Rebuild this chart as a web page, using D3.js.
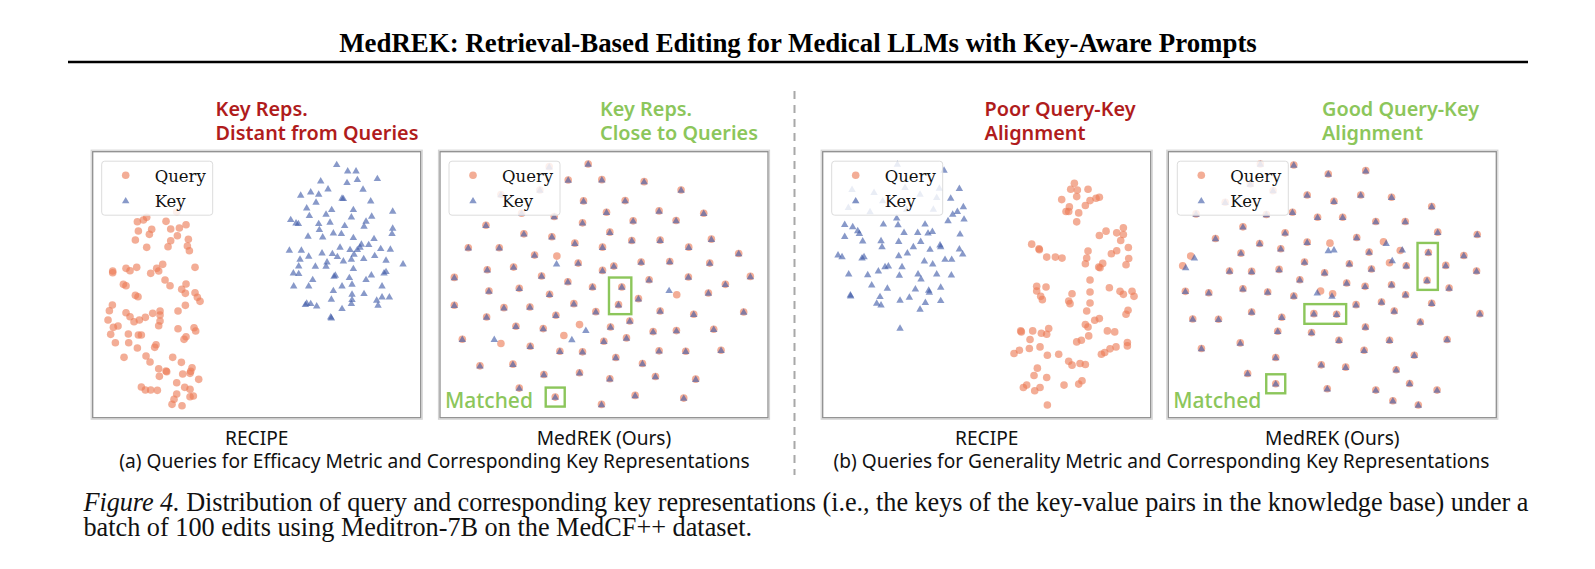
<!DOCTYPE html>
<html><head><meta charset="utf-8">
<script src="https://cdn.jsdelivr.net/npm/d3@7"></script>
<style>html,body{margin:0;padding:0;background:#fff;}svg{display:block;}</style>
</head><body>
<svg id="fig" width="1595" height="569"></svg>
<script>
// ---------------- DATA (embedding coordinates) ----------------
const headerTitle = "MedREK: Retrieval-Based Editing for Medical LLMs with Key-Aware Prompts";
const panelTitles = [["Key Reps.", "Distant from Queries"], ["Key Reps.", "Close to Queries"],
                     ["Poor Query-Key", "Alignment"], ["Good Query-Key", "Alignment"]];
const panelTitleTone = ["bad", "good", "bad", "good"];
const methodLabels = ["RECIPE", "MedREK (Ours)", "RECIPE", "MedREK (Ours)"];
const groupLabels = ["(a) Queries for Efficacy Metric and Corresponding Key Representations",
                     "(b) Queries for Generality Metric and Corresponding Key Representations"];
const legendLabels = ["Query", "Key"];
const captionLead = "Figure 4.";
const captionLine1 = " Distribution of query and corresponding key representations (i.e., the keys of the key-value pairs in the knowledge base) under a";
const captionLine2 = "batch of 100 edits using Meditron-7B on the MedCF++ dataset.";
const annotationLabel = "Matched";

// Panel (a) RECIPE
const queries1 = [[290,215],[200,232],[190,240],[172,245],[258,244],[318,254],[298,264],[272,267],[215,268],[175,273],[208,283],[292,287],[166,300],[272,302],[325,298],[322,318],[264,320],[200,322],[328,332],[345,382],[248,373],[230,385],[236,393],[212,400],[170,382],[150,392],[138,385],[98,393],[98,398],[255,420],[270,437],[318,432],[305,448],[316,460],[130,433],[138,437],[166,466],[174,470],[345,458],[352,472],[360,484],[97,495],[88,512],[316,496],[294,513],[138,518],[150,530],[162,545],[178,540],[196,532],[218,520],[240,513],[240,525],[240,543],[236,557],[84,540],[100,562],[114,558],[294,566],[342,563],[347,573],[92,583],[145,582],[175,585],[184,585],[318,590],[312,598],[106,608],[146,608],[228,614],[224,622],[172,624],[132,652],[198,648],[210,666],[278,652],[304,667],[236,686],[258,693],[260,695],[336,683],[332,694],[238,709],[308,702],[330,700],[356,718],[290,728],[184,741],[196,750],[212,750],[232,751],[314,742],[330,748],[290,762],[282,778],[330,770],[340,768],[276,793],[306,797]];
const keys1 = [[770,73],[803,92],[828,92],[722,122],[801,127],[832,118],[892,115],[744,146],[849,147],[662,165],[692,155],[716,162],[708,186],[786,174],[790,175],[872,182],[680,203],[755,208],[820,208],[938,213],[688,226],[738,222],[814,230],[875,228],[632,238],[648,248],[655,250],[716,250],[750,246],[794,256],[858,243],[852,258],[938,264],[936,280],[718,268],[684,288],[728,290],[760,278],[784,280],[820,292],[882,295],[844,312],[866,313],[840,321],[628,330],[664,330],[726,338],[757,340],[780,321],[810,328],[832,328],[902,325],[931,327],[686,348],[772,349],[822,342],[851,355],[814,357],[884,346],[660,357],[741,365],[790,362],[656,377],[706,378],[738,378],[820,385],[918,360],[969,371],[640,398],[656,400],[766,405],[808,412],[874,404],[912,398],[918,394],[641,437],[686,437],[698,418],[762,408],[786,437],[816,432],[858,418],[906,437],[760,451],[816,462],[852,460],[890,480],[906,470],[928,470],[894,495],[680,489],[676,493],[692,490],[710,497],[754,477],[816,478],[814,490],[752,530],[754,533],[786,505]];

// Panel (a) MedREK: query/key pairs that coincide, plus the few that do not
const matched2 = [[358,78],[330,148],[213,162],[275,218],[373,228],[475,70],[415,118],[516,117],[643,123],[754,148],[461,181],[586,180],[530,215],[688,211],[822,218],[610,241],[739,240],[458,247],[168,254],[282,280],[366,289],[540,275],[115,322],[208,322],[435,308],[518,320],[606,300],[691,299],[777,320],[845,296],[314,344],[445,368],[518,390],[552,377],[634,365],[720,363],[840,368],[927,339],[172,388],[251,380],[335,407],[73,411],[414,424],[488,440],[576,440],[658,418],[776,410],[887,432],[962,408],[177,452],[268,444],[359,462],[626,475],[836,458],[73,495],[222,502],[300,500],[432,490],[378,525],[498,514],[566,493],[691,512],[792,522],[942,515],[170,530],[258,558],[340,565],[542,560],[600,542],[670,574],[740,571],[852,567],[97,597],[301,618],[390,633],[458,635],[522,603],[590,593],[558,652],[688,632],[768,633],[874,630],[150,677],[249,672],[638,670],[342,703],[449,698],[540,716],[677,709],[798,717],[268,744],[376,771],[616,766],[762,774],[515,793]];
const extraQueries2 = [[381,347],[741,463],[449,553],[402,586],[213,610]];
const extraKeys2 = [[380,370],[718,450],[468,570],[426,598],[193,597]];
const queries2 = matched2.concat(extraQueries2);
const keys2 = matched2.concat(extraKeys2);
const highlight2 = [[[576,440],[566,493]], [[376,771]]];

// Panel (b) RECIPE
const keys3 = [[262,70],[402,88],[126,146],[192,155],[137,180],[218,180],[330,160],[380,170],[388,142],[285,140],[290,205],[370,205],[115,200],[180,213],[448,143],[422,172],[460,198],[442,212],[428,220],[414,240],[462,235],[260,232],[264,252],[220,250],[345,250],[104,251],[128,258],[143,270],[148,278],[104,287],[282,275],[323,275],[354,277],[367,272],[450,280],[158,301],[213,300],[266,302],[332,302],[216,318],[310,318],[390,313],[392,318],[360,326],[448,325],[458,340],[84,343],[96,348],[156,352],[162,348],[266,345],[292,337],[405,356],[425,356],[343,361],[116,400],[173,402],[205,391],[225,378],[235,376],[276,378],[368,370],[324,400],[333,415],[380,400],[424,403],[268,404],[185,433],[232,443],[316,445],[356,449],[392,440],[358,455],[121,463],[122,466],[210,468],[270,479],[298,470],[346,486],[392,480],[200,488],[213,493],[330,506],[270,563]];
const queries3 = [[793,128],[782,146],[802,148],[834,146],[755,177],[800,168],[840,180],[858,173],[868,170],[826,195],[778,199],[768,213],[776,213],[806,217],[800,244],[868,285],[888,272],[920,277],[940,262],[940,282],[932,300],[665,311],[687,325],[688,328],[710,350],[736,350],[756,353],[834,332],[830,353],[826,370],[878,369],[866,380],[870,382],[904,340],[920,331],[955,321],[956,354],[948,373],[840,419],[680,438],[708,440],[680,452],[692,468],[697,478],[840,455],[786,460],[776,482],[780,490],[840,488],[830,512],[898,442],[930,453],[940,462],[966,453],[972,468],[954,510],[948,522],[634,575],[632,572],[668,572],[694,579],[716,565],[710,582],[826,553],[834,560],[854,540],[868,535],[836,587],[892,572],[914,575],[660,598],[690,620],[658,625],[628,630],[612,640],[712,645],[746,642],[800,605],[814,600],[952,607],[952,617],[918,620],[900,626],[884,637],[874,642],[776,663],[786,675],[810,670],[826,673],[682,684],[672,706],[710,712],[640,742],[650,735],[674,752],[690,742],[762,735],[806,732],[816,722],[712,795]];

// Panel (b) MedREK
const matched4 = [[300,70],[270,130],[338,150],[195,185],[108,220],[318,222],[400,73],[615,90],[503,100],[440,163],[520,182],[600,163],[692,170],[812,198],[396,215],[471,230],[546,230],[645,243],[733,243],[248,259],[166,294],[374,277],[298,309],[440,305],[588,291],[830,275],[948,282],[361,325],[242,338],[625,335],[802,336],[908,345],[432,365],[566,370],[632,386],[854,375],[736,376],[208,392],[274,393],[356,387],[492,397],[946,392],[418,418],[558,428],[613,438],[692,433],[798,420],[864,443],[76,453],[146,457],[248,445],[322,455],[400,467],[734,463],[586,493],[662,485],[700,512],[812,489],[274,515],[364,531],[460,520],[528,522],[956,520],[98,536],[175,537],[778,545],[614,560],[352,573],[453,577],[535,600],[686,600],[858,598],[240,608],[124,625],[610,630],[346,652],[482,674],[555,681],[760,645],[706,689],[262,700],[746,730],[346,731],[500,746],[645,750],[828,750],[696,782],[772,795]];
const extraQueries4 = [[508,308],[92,347],[68,376],[718,330],[686,367],[480,452],[516,460],[668,304]];
const extraKeys4 = [[503,330],[520,328],[103,352],[77,381],[724,328],[694,360],[470,457],[514,467],[676,308]];
const queries4 = matched4.concat(extraQueries4);
const keys4 = matched4.concat(extraKeys4);
const highlight4 = [[[802,336],[798,420]], [[460,520],[528,522]], [[346,731]]];

// embedding extents shown in each panel
const xExtents = [[38,1022],[30,1015],[38,1022],[25,1005]];
const yExtents = [[35,833],[33,833],[33,833],[33,833]];

// ---------------- LAYOUT / STYLE ----------------
const W = 1595, H = 569;
const panelLeft = [92.7, 440, 822.7, 1168.3];
const panelTop = 151.7, panelW = 328, panelH = 266;
const cQuery = "#ec7a56", cKey = "#3f5aa8";
const cBad = "#b01c1c", cGood = "#8cc65b";
const sans = "'Noto Sans', 'Open Sans', sans-serif";
const serif = "'Liberation Serif', 'Times New Roman', serif";

const svg = d3.select("#fig");
svg.append("rect").attr("width", W).attr("height", H).attr("fill", "#fff");

// choose a font size so that a text gets the width it has in the figure
function fitSize(str, family, weight, target) {
  const t = svg.append("text").attr("font-family", family).attr("font-weight", weight)
    .attr("font-size", 20).text(str);
  const w = t.node().getComputedTextLength();
  t.remove();
  return 20 * target / w;
}

// Header
const titleSize = fitSize(headerTitle, serif, "bold", 918);
svg.append("text").attr("x", 798).attr("y", 52).attr("text-anchor", "middle")
  .attr("font-family", serif).attr("font-weight", "bold").attr("font-size", titleSize).attr("fill", "#000")
  .text(headerTitle);
svg.append("line").attr("x1", 68).attr("x2", 1528).attr("y1", 62).attr("y2", 62)
  .attr("stroke", "#000").attr("stroke-width", 2.6);

// Separator
svg.append("line").attr("x1", 794.5).attr("x2", 794.5).attr("y1", 91).attr("y2", 475)
  .attr("stroke", "#a8a8a8").attr("stroke-width", 2).attr("stroke-dasharray", "8,6");

const queriesAll = [queries1, queries2, queries3, queries4];
const keysAll = [keys1, keys2, keys3, keys4];
const highlights = [[], highlight2, [], highlight4];

const tri = d3.symbol().type(d3.symbolTriangle).size(24);

// Panel titles
const titleX = [215.6, 600, 984.6, 1322];
const pSize = fitSize(panelTitles[0][1], sans, 600, 203);
panelTitles.forEach((lines, i) => {
  lines.forEach((s, j) => {
    svg.append("text").attr("x", titleX[i]).attr("y", 115.5 + j * 24.5)
      .attr("font-family", sans).attr("font-weight", 600).attr("font-size", pSize)
      .attr("fill", panelTitleTone[i] === "bad" ? cBad : cGood).text(s);
  });
});

const matchedSize = fitSize(annotationLabel, sans, 500, 88);

for (let i = 0; i < 4; i++) {
  const px = panelLeft[i];
  const x = d3.scaleLinear().domain(xExtents[i]).range([px, px + panelW]);
  const y = d3.scaleLinear().domain(yExtents[i]).range([panelTop, panelTop + panelH]);
  const g = svg.append("g");
  g.append("rect").attr("x", px - 1.5).attr("y", panelTop - 1.5).attr("width", panelW + 3).attr("height", panelH + 3)
    .attr("fill", "none").attr("stroke", "#d4d4d4").attr("stroke-width", 1.2);
  g.append("rect").attr("x", px).attr("y", panelTop).attr("width", panelW).attr("height", panelH)
    .attr("fill", "#fff").attr("stroke", "#8f8f8f").attr("stroke-width", 1.3);

  g.append("g").selectAll("circle").data(queriesAll[i]).join("circle")
    .attr("cx", d => x(d[0])).attr("cy", d => y(d[1])).attr("r", 3.8)
    .attr("fill", cQuery).attr("fill-opacity", 0.62);
  g.append("g").selectAll("path").data(keysAll[i]).join("path")
    .attr("d", tri).attr("transform", d => `translate(${x(d[0])},${y(d[1]) + 0.6})`)
    .attr("fill", cKey).attr("fill-opacity", 0.62);

  // legend
  const lg = g.append("g").attr("transform", `translate(${px + 9},${panelTop + 9.5})`);
  lg.append("rect").attr("width", 111).attr("height", 54).attr("rx", 3)
    .attr("fill", "#fff").attr("fill-opacity", 0.82).attr("stroke", "#dcdcdc").attr("stroke-width", 1);
  lg.append("circle").attr("cx", 24).attr("cy", 14).attr("r", 3.8).attr("fill", cQuery).attr("fill-opacity", 0.62);
  lg.append("path").attr("d", tri).attr("transform", "translate(24,40)").attr("fill", cKey).attr("fill-opacity", 0.62);
  legendLabels.forEach((s, j) => {
    lg.append("text").attr("x", 53).attr("y", 20.5 + j * 25.5).attr("font-family", "'DejaVu Serif', serif")
      .attr("font-size", 16.5).attr("fill", "#111").text(s);
  });

  // highlighted matched pairs
  highlights[i].forEach(pts => {
    const xs = pts.map(p => x(p[0])), ys = pts.map(p => y(p[1]));
    const pad = 9.5;
    g.append("rect").attr("x", d3.min(xs) - pad).attr("y", d3.min(ys) - pad)
      .attr("width", d3.max(xs) - d3.min(xs) + 2 * pad).attr("height", d3.max(ys) - d3.min(ys) + 2 * pad)
      .attr("fill", "none").attr("stroke", cGood).attr("stroke-width", 2.4);
  });
  if (highlights[i].length) {
    g.append("text").attr("x", px + 5).attr("y", panelTop + panelH - 9.5)
      .attr("font-family", sans).attr("font-weight", 500).attr("font-size", matchedSize)
      .attr("fill", cGood).text(annotationLabel);
  }
}

// Bottom labels
const labelSize = fitSize(groupLabels[0], sans, "normal", 631);
methodLabels.forEach((s, i) => {
  svg.append("text").attr("x", panelLeft[i] + panelW / 2).attr("y", 444.5).attr("text-anchor", "middle")
    .attr("font-family", sans).attr("font-size", labelSize).attr("fill", "#111").text(s);
});
const groupCenters = [434.5, 1161.5];
groupLabels.forEach((s, i) => {
  svg.append("text").attr("x", groupCenters[i]).attr("y", 468).attr("text-anchor", "middle")
    .attr("font-family", sans).attr("font-size", labelSize).attr("fill", "#111").text(s);
});

// Caption
const capSize = fitSize(captionLine2, serif, "normal", 669);
svg.append("text").attr("x", 83.4).attr("y", 536).attr("font-family", serif)
  .attr("font-size", capSize).attr("fill", "#111").text(captionLine2);
const c1 = svg.append("text").attr("x", 83.4).attr("y", 510.6).attr("font-family", serif)
  .attr("font-size", capSize).attr("fill", "#111");
c1.append("tspan").attr("font-style", "italic").text(captionLead);
c1.append("tspan").text(captionLine1);
c1.attr("textLength", 1445).attr("lengthAdjust", "spacing");
</script>
</body></html>
